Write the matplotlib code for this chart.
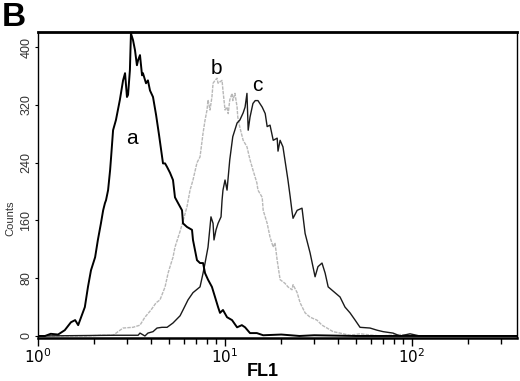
import matplotlib
matplotlib.use("Agg")
import matplotlib.pyplot as plt
from matplotlib.ticker import LogLocator, NullFormatter, FixedLocator

plt.rcParams["font.family"] = ["Liberation Sans", "DejaVu Sans"]

# Histogram a (control, black)
a_fl1 = [1.00, 1.09, 1.17, 1.28, 1.39, 1.50, 1.58, 1.64, 1.70, 1.78, 1.85, 1.92,
         2.02, 2.09, 2.17, 2.23, 2.28, 2.31, 2.37, 2.43, 2.46, 2.52, 2.61, 2.74,
         2.85, 2.92, 2.99, 3.03, 3.10, 3.14, 3.22, 3.30, 3.38, 3.43, 3.51, 3.60,
         3.64, 3.78, 3.87, 3.97, 4.12, 4.28, 4.44, 4.66, 4.78, 4.90, 5.08, 5.27,
         5.40, 5.61, 5.89, 5.96, 6.26, 6.66, 6.74, 7.08, 7.35, 7.63, 7.82, 8.11,
         8.51, 8.84, 9.18, 9.40, 9.75, 10.25, 10.9, 11.6, 12.3, 12.8, 13.6, 14.8,
         16.0, 20.0, 25.0, 30.0, 50.0, 100.0, 364.0]
a_counts = [0, 0, 3, 2, 8, 19, 22, 15, 26, 40, 68, 91,
            109, 133, 156, 174, 184, 188, 202, 230, 248, 285, 299, 327,
            354, 364, 331, 334, 368, 419, 410, 396, 375, 382, 389, 361,
            364, 350, 354, 340, 331, 306, 278, 239, 239, 234, 226, 216,
            192, 184, 174, 156, 151, 147, 133, 105, 101, 101, 87, 78,
            68, 54, 40, 32, 36, 26, 22, 12, 15, 12, 4, 4,
            1, 2, 0, 1, 0, 0, 0]

# Histogram b (light grey)
b_fl1 = [1.0, 1.83, 2.15, 2.52, 2.85, 3.22, 3.51, 3.73, 4.02, 4.28, 4.49, 4.78,
         4.96, 5.08, 5.27, 5.40, 5.75, 5.96, 6.26, 6.50, 6.74, 7.08, 7.35, 7.63,
         7.82, 8.01, 8.11, 8.31, 8.51, 8.63, 8.84, 9.06, 9.18, 9.40, 9.64, 9.75,
         10.0, 10.25, 10.4, 10.6, 10.9, 11.0, 11.3, 11.6, 11.7, 12.0, 12.5, 13.1,
         13.6, 14.1, 14.8, 15.0, 15.8, 16.0, 16.8, 17.4, 18.1, 18.5, 19.0, 19.7,
         20.9, 21.7, 22.8, 23.1, 24.3, 25.2, 26.8, 28.5, 31.0, 33.0, 35.1, 37.8,
         41.2, 46.6, 52.7, 67.4, 86.3, 110.0, 364.0]
b_counts = [0, 0, 1, 1, 11, 12, 15, 26, 36, 46, 50, 68,
            87, 96, 109, 123, 145, 159, 179, 202, 216, 240, 248, 281,
            299, 313, 327, 313, 331, 350, 354, 357, 350, 352, 354, 340,
            313, 317, 308, 327, 336, 326, 336, 317, 303, 289, 271, 262,
            244, 230, 212, 202, 192, 174, 156, 137, 123, 129, 105, 78,
            73, 68, 64, 71, 60, 46, 32, 26, 22, 15, 11, 6,
            4, 1, 3, 0, 2, 0, 0]

# Histogram c (black, thinner)
c_fl1 = [1.0, 2.58, 2.92, 3.43, 3.51, 3.73, 3.87, 4.12, 4.33, 4.60, 4.90, 5.27,
         5.75, 5.96, 6.34, 6.74, 7.35, 7.63, 7.82, 8.11, 8.31, 8.41, 8.63, 8.73,
         8.95, 9.18, 9.52, 9.64, 9.75, 10.0, 10.25, 10.6, 11.0, 11.6, 12.0, 12.5,
         12.8, 13.1, 13.3, 13.6, 14.1, 14.5, 15.0, 15.8, 16.4, 16.8, 17.4, 18.1,
         19.0, 19.2, 19.7, 20.4, 20.9, 21.7, 22.3, 22.8, 23.1, 24.3, 25.8, 26.8,
         28.5, 30.3, 31.4, 33.0, 34.3, 35.6, 38.7, 41.2, 43.8, 46.6, 49.6, 52.7,
         59.6, 65.0, 70.0, 79.1, 86.3, 97.5, 110.0, 364.0]
c_counts = [0, 1, 1, 1, 4, 0, 4, 6, 11, 12, 12, 18,
            28, 36, 50, 60, 68, 87, 101, 123, 151, 165, 156, 133,
            147, 156, 165, 188, 202, 216, 202, 244, 276, 295, 299, 309,
            317, 336, 285, 303, 322, 326, 326, 317, 308, 290, 292, 271,
            274, 256, 271, 262, 244, 216, 193, 173, 163, 174, 177, 142,
            115, 82, 96, 101, 87, 68, 60, 54, 40, 32, 22, 12,
            11, 8, 6, 4, 0, 3, 0, 0]

curve_labels = ["a", "b", "c"]
label_fl1 = [3.18, 8.95, 14.8]
label_counts = [274, 371, 347]

y_ticks = [0, 80, 160, 240, 320, 400]
x_ticks = [1, 10, 100]
x_tick_labels = [r"$10^0$", r"$10^1$", r"$10^2$"]

fig = plt.figure(figsize=(5.2, 3.81), dpi=100)
ax = fig.add_axes([38 / 520, 43 / 381, 479 / 520, 306 / 381])

ax.plot(b_fl1, b_counts, color="#b8b8b8", lw=1.0, linestyle=(0, (2.5, 0.8)))
ax.plot(c_fl1, c_counts, color="#1a1a1a", lw=1.0)
ax.plot(a_fl1, a_counts, color="black", lw=1.4)

for lab, xv, yv in zip(curve_labels, label_fl1, label_counts):
    ax.text(xv, yv, lab, ha="center", va="center", fontsize=15)

ax.set_xscale("log")
ax.set_xlim(1, 364)
ax.set_ylim(-2.8, 421)

ax.xaxis.set_major_locator(FixedLocator(x_ticks))
ax.set_xticklabels(x_tick_labels, fontsize=11)
ax.xaxis.set_minor_locator(LogLocator(base=10, subs=range(2, 10)))
ax.xaxis.set_minor_formatter(NullFormatter())
ax.tick_params(axis="x", which="major", direction="out", length=6, width=1, pad=1)
ax.tick_params(axis="x", which="minor", direction="out", length=4, width=1)

ax.set_yticks(y_ticks)
ax.set_yticklabels([str(t) for t in y_ticks], rotation=90, va="center", fontsize=9, color="#333333")
ax.tick_params(axis="y", direction="out", length=2, width=0.8, pad=2)

ax.set_xlabel("FL1", fontsize=13, fontweight="bold", va="center")
ax.xaxis.set_label_coords(0.47, -0.11)
ax.set_ylabel("Counts", fontsize=8, color="#333333", va="center")
ax.yaxis.set_label_coords(-0.058, 0.39)

ax.spines["top"].set_linewidth(2.0)
ax.spines["bottom"].set_linewidth(1.8)
ax.spines["left"].set_linewidth(1.0)
ax.spines["right"].set_linewidth(1.0)

fig.text(0.004, 0.995, "B", fontsize=24, fontweight="bold", ha="left", va="top")

fig.savefig("out.png", dpi=100)
